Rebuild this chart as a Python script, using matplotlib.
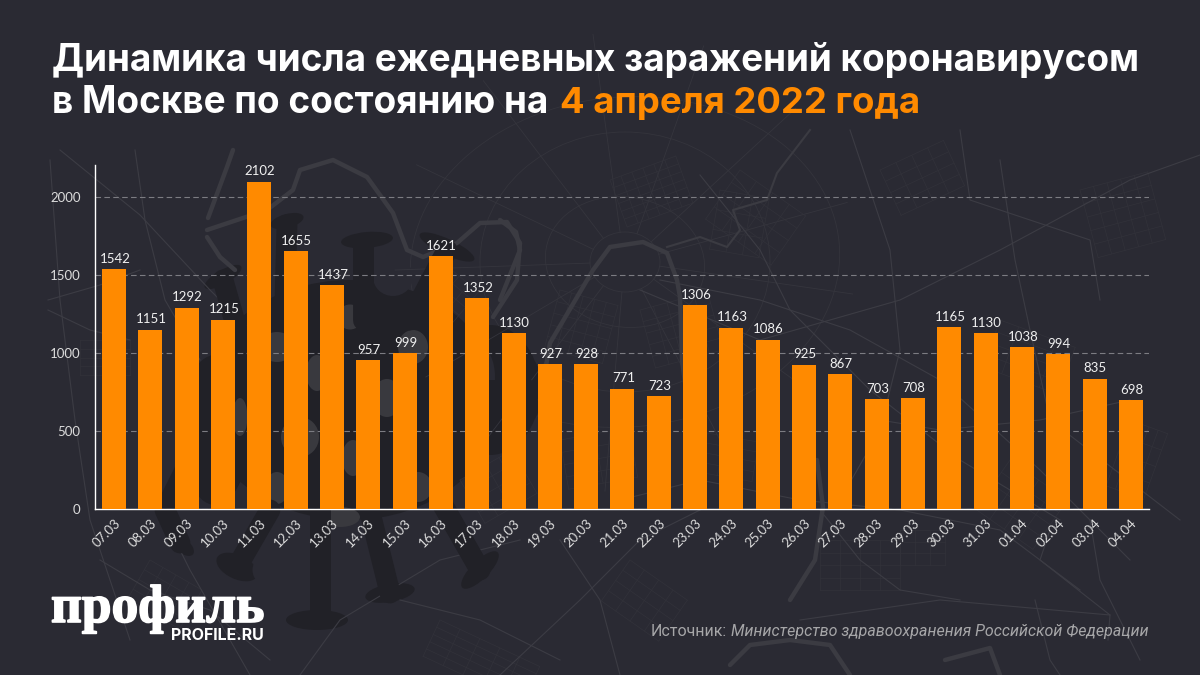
import matplotlib
matplotlib.use("Agg")
import matplotlib.pyplot as plt
import matplotlib.patheffects as pe
from matplotlib.patches import Ellipse
from matplotlib.transforms import ScaledTranslation
import numpy as np

days = ["07.03", "08.03", "09.03", "10.03", "11.03", "12.03", "13.03", "14.03", "15.03", "16.03",
        "17.03", "18.03", "19.03", "20.03", "21.03", "22.03", "23.03", "24.03", "25.03", "26.03",
        "27.03", "28.03", "29.03", "30.03", "31.03", "01.04", "02.04", "03.04", "04.04"]
cases = [1542, 1151, 1292, 1215, 2102, 1655, 1437, 957, 999, 1621,
         1352, 1130, 927, 928, 771, 723, 1306, 1163, 1086, 925,
         867, 703, 708, 1165, 1130, 1038, 994, 835, 698]
yticks = [0, 500, 1000, 1500, 2000]

# фон, всё в пикселях картинки
roads = [
    [(50, 160), (60, 300), (75, 420), (90, 520), (130, 640)],
    [(60, 150), (140, 215), (210, 290), (260, 340)],
    [(135, 150), (145, 220), (165, 300), (200, 360)],
    [(48, 300), (100, 285), (140, 270)],
    [(48, 310), (90, 330), (130, 340)],
    [(100, 560), (150, 590), (210, 610), (270, 660)],
    [(300, 675), (340, 620), (390, 590), (440, 560), (520, 540)],
    [(170, 530), (190, 570), (230, 640), (250, 675)],
    [(640, 290), (760, 340), (900, 300), (1000, 250), (1130, 180), (1200, 155)],
    [(700, 175), (760, 250), (790, 310), (870, 390), (960, 460), (1060, 520)],
    [(850, 130), (890, 250), (900, 350), (880, 430), (840, 500)],
    [(1000, 160), (1015, 260), (1030, 330), (1050, 420), (1180, 520)],
    [(660, 280), (760, 300), (850, 330), (940, 380), (1040, 470), (1130, 560)],
    [(620, 500), (700, 480), (800, 500), (900, 510), (1000, 530), (1080, 590)],
    [(1035, 600), (1050, 660), (1060, 675)],
    [(800, 620), (940, 600), (1110, 615), (1108, 640)],
    [(1050, 530), (1040, 560), (1110, 615)],
    [(500, 675), (580, 600), (640, 540), (700, 510)],
    [(560, 540), (600, 600), (620, 675)],
    [(400, 600), (480, 620), (560, 660)],
    [(820, 510), (860, 560), (900, 590), (960, 600)],
    [(1090, 520), (1100, 580), (1140, 660)],
    [(880, 420), (940, 430), (1040, 420), (1130, 400)],
    [(960, 130), (970, 200), (1090, 240), (1100, 300)],
]
rivers = [
    [(207, 237), (220, 257), (235, 270)],
    [(207, 230), (267, 210), (293, 190), (300, 170), (333, 160), (367, 177), (393, 213),
     (407, 250), (423, 257), (457, 243), (480, 223), (507, 222), (520, 243), (517, 280), (493, 317)],
    [(208, 218), (227, 167), (233, 150)],
    [(500, 220), (516, 232), (520, 250), (500, 300)],
    [(540, 400), (550, 343), (593, 270), (610, 247), (643, 242), (667, 253), (677, 280), (680, 297)],
    [(690, 420), (682, 360), (680, 297)],
    [(817, 460), (823, 507), (815, 560), (790, 600)],
    [(730, 665), (750, 645), (790, 640), (830, 645), (850, 675)],
    [(945, 660), (990, 648), (1000, 675)],
]
creek = [(667, 247), (700, 237), (727, 247), (740, 230), (733, 210), (767, 200), (777, 173), (810, 130)]
# вирус: тело, ножки и шляпки
virus_body = [(350, 400, 300, 240, 0), (215, 430, 70, 150, 0), (490, 390, 100, 130, 0)]
virus_stalks = [
    [(363, 320), (363, 245)], [(285, 300), (287, 225)], [(240, 340), (223, 280)], [(410, 320), (447, 250)],
    [(185, 470), (165, 510), (180, 543)], [(270, 510), (237, 567)], [(320, 500), (320, 615)],
    [(367, 500), (390, 593)], [(440, 500), (480, 570)], [(480, 390), (530, 390)],
]
virus_caps = [
    (367, 240, 52, 16, -5), (287, 221, 34, 14, -15), (223, 277, 42, 14, -30), (447, 247, 60, 16, 25),
    (183, 546, 26, 14, 40), (237, 567, 44, 24, 25), (317, 620, 62, 20, 0),
    (390, 593, 50, 18, -10), (480, 570, 50, 18, -45), (533, 390, 16, 58, 0),
]
virus_spots = [
    (350, 317, 25, 25), (277, 347, 35, 30), (317, 373, 22, 36), (387, 398, 30, 38), (240, 417, 15, 38),
    (300, 437, 38, 40), (353, 458, 22, 36), (418, 487, 28, 30), (277, 488, 24, 32), (413, 347, 30, 34),
    (340, 517, 40, 20),
]
virus_holes = [(393, 277, 40, 38), (280, 570, 55, 42), (480, 377, 30, 60)]
# кварталы: x, y, ширина, высота, наклон, число улиц
blocks = [
    (80, 340, 50, 35, 0, 5), (150, 560, 60, 45, 30, 5), (440, 620, 110, 40, 25, 6), (610, 180, 70, 50, -20, 7),
    (560, 290, 60, 60, 15, 6), (640, 310, 70, 60, -15, 6), (740, 170, 80, 60, 35, 5), (880, 170, 70, 50, -25, 5),
    (1080, 190, 70, 70, -15, 6), (1000, 320, 80, 50, 20, 5), (820, 540, 80, 50, 0, 5), (900, 530, 45, 35, 0, 4),
    (1130, 420, 40, 70, 20, 5), (440, 260, 50, 40, 40, 5), (560, 440, 70, 50, -10, 5), (460, 480, 60, 50, -30, 5),
    (690, 430, 70, 40, 10, 5), (1010, 460, 70, 60, 35, 5), (630, 560, 70, 50, 35, 5), (720, 190, 50, 60, 10, 4),
]

fig = plt.figure(figsize=(12, 6.75), dpi=100, facecolor="#2a2a33")

bg = fig.add_axes([0, 0, 1, 1], zorder=0)
bg.set_xlim(0, 1200)
bg.set_ylim(675, 0)
bg.axis("off")

# кольца и радиусы центра
for w, h, a in [(70, 60, 0), (160, 130, 10), (290, 260, 0), (430, 330, -5)]:
    bg.add_patch(Ellipse((625, 262), w, h, angle=a, fc="none", ec="#34343c", lw=0.6))
for ang in [8, 35, 62, 95, 128, 150, 178, 205, 232, 262, 290, 318, 345]:
    c, s = np.cos(np.radians(ang)), np.sin(np.radians(ang))
    bg.plot([625 + 35 * c, 625 + 230 * c], [262 + 30 * s, 262 + 230 * s], color="#35353d", lw=0.6)
for x0, y0, w, h, a, n in blocks:
    c, s = np.cos(np.radians(a)), np.sin(np.radians(a))
    for k in np.linspace(0, 1, n):
        bg.plot([x0 + k * h * -s, x0 + w * c + k * h * -s], [y0 + k * h * c, y0 + w * s + k * h * c],
                color="#32323a", lw=0.5)
        bg.plot([x0 + k * w * c, x0 + k * w * c - h * s], [y0 + k * w * s, y0 + k * w * s + h * c],
                color="#32323a", lw=0.5)
for r in roads:
    bg.plot([p[0] for p in r], [p[1] for p in r], color="#3c3c44", lw=0.8)
for r in rivers:
    bg.plot([p[0] for p in r], [p[1] for p in r], color="#3b3b42", lw=3.2, solid_capstyle="round")
bg.plot([p[0] for p in creek], [p[1] for p in creek], color="#3b3b42", lw=1.5)

virus = "#212127"
for x0, y0, w, h, a in virus_body:
    bg.add_patch(Ellipse((x0, y0), w, h, angle=a, fc=virus, ec="none"))
for r in virus_stalks:
    bg.plot([p[0] for p in r], [p[1] for p in r], color=virus, lw=15, solid_capstyle="round")
for x0, y0, w, h, a in virus_caps:
    bg.add_patch(Ellipse((x0, y0), w, h, angle=a, fc=virus, ec="none"))
for x0, y0, w, h in virus_holes:
    bg.add_patch(Ellipse((x0, y0), w, h, fc="#2a2a33", ec="none"))
for x0, y0, w, h in virus_spots:
    bg.add_patch(Ellipse((x0, y0), w, h, fc="#39393e", ec="none"))

# оси: 0 на y=508.5, 2000 на y=197.5
ax = fig.add_axes([94.5 / 1200, (675 - 508.5) / 675, (1149 - 94.5) / 1200, (508.5 - 165) / 675], zorder=2)
ax.patch.set_alpha(0)
x = list(range(len(days)))
ax.bar(x, cases, width=0.66, color="#ff8a00", zorder=3)
ax.set_xlim(-0.54, 28.5)
ax.set_ylim(0, 2209)
ax.set_yticks(yticks)
ax.set_xticks(x)
ax.set_xticklabels(days, rotation=45, ha="right", rotation_mode="anchor", fontsize=9.5,
                   family="Lato", color="#dcdcdc")
shift = ScaledTranslation(-1 / 72, 0, fig.dpi_scale_trans)
for t in ax.get_xticklabels():
    t.set_transform(t.get_transform() + shift)
for t in ax.get_yticklabels():
    t.set_family("Lato")
    t.set_fontsize(9.5)
    t.set_color("#dcdcdc")
ax.tick_params(axis="both", length=0)
ax.tick_params(axis="x", pad=6)
ax.tick_params(axis="y", pad=10)
ax.grid(axis="y", color="#7c7c82", lw=0.8, ls=(0, (5, 3)), zorder=1)
ax.set_axisbelow(True)
for s in ["top", "right"]:
    ax.spines[s].set_visible(False)
for s in ["left", "bottom"]:
    ax.spines[s].set_color("white")
    ax.spines[s].set_linewidth(1.0)
for i, v in zip(x, cases):
    ax.annotate(str(v), (i, v), xytext=(0.6, 3), textcoords="offset points", ha="center", va="bottom",
                fontsize=9.5, family="Lato", color="#f0f0f0", zorder=4)

# заголовок
tfont = dict(family="Inter", fontweight="bold", fontsize=26.6, color="white", va="baseline", zorder=5)
bg.text(52, 71, "Динамика числа ежедневных заражений коронавирусом", **tfont)
bg.text(52, 113, "в Москве по состоянию на", **tfont)
bg.text(560, 113, "4 апреля 2022 года", **{**tfont, "color": "#ff8a00", "fontsize": 26.3})

# логотип и источник
bg.text(51, 622, "профиль", family="Liberation Serif", fontweight="bold", fontsize=38.5, color="white",
        va="baseline", zorder=5, path_effects=[pe.withStroke(linewidth=1.2, foreground="white")])
bg.text(264, 640, "PROFILE.RU", family="Inter", fontweight="bold", fontsize=11.5, color="white",
        ha="right", va="baseline", zorder=5)
bg.text(651, 636, "Источник:", family="Roboto", fontsize=11.5, color="#a6a6a8", va="baseline", zorder=5)
bg.text(731, 636, "Министерство здравоохранения Российской Федерации", family="Roboto",
        style="italic", fontsize=11.5, color="#a6a6a8", va="baseline", zorder=5)

fig.savefig("out.png", dpi=100, facecolor=fig.get_facecolor())
